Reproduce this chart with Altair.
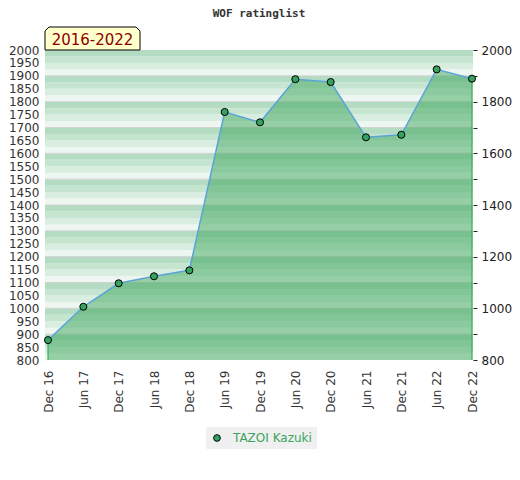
import json
import altair as alt
import pandas as pd

# ---- data ----
periods = ["Dec 16", "Jun 17", "Dec 17", "Jun 18", "Dec 18", "Jun 19", "Dec 19",
           "Jun 20", "Dec 20", "Jun 21", "Dec 21", "Jun 22", "Dec 22"]
ratings = [877, 1006, 1097, 1124, 1147, 1760, 1720, 1887, 1876, 1662, 1672, 1925, 1889]
player = "TAZOI Kazuki"
title_text = ["WOF ratinglist"]
range_label = ["2016-2022"]

y_min, y_max = 800, 2000
left_ticks = list(range(800, 2001, 50))
right_ticks = list(range(800, 2001, 100))

band_colors = ["#eef6f1", "#d9eee1", "#c6e5d1", "#b3dcc3"]

# ---- tables ----
df = pd.DataFrame({"idx": list(range(len(periods))), "period": periods,
                   "rating": ratings, "name": player})
bands = []
for h in range(y_min, y_max, 100):
    for k in range(4):
        bands.append({"y": h + 25 * k, "y2": h + 25 * (k + 1), "shade": k})
bands = pd.DataFrame(bands)
hundreds = pd.DataFrame({"y": list(range(y_min + 100, y_max, 100))})
label_df = pd.DataFrame({"label": range_label})
title_df = pd.DataFrame({"t": title_text})

FONT = "DejaVu Sans"
last = len(periods) - 1
W, H = 428, 310
yscale = alt.Scale(domain=[y_min, y_max], zero=False, nice=False)
xscale = alt.Scale(domain=[-0.085, last + 0.028], nice=False, zero=False)
label_expr = json.dumps(periods) + "[datum.value]"

xaxis = alt.Axis(values=list(range(len(periods))), labelExpr=label_expr, labelAngle=-90,
                 labelFont=FONT, labelFontSize=12, labelColor="#333", ticks=False,
                 domain=False, grid=False, labelPadding=10, title=None,
                 labelBaseline="middle", labelAlign="right")

band_layer = alt.Chart(bands).mark_rect().encode(
    y=alt.Y("y:Q", scale=yscale,
            axis=alt.Axis(orient="left", values=left_ticks, format="d", labelFont=FONT,
                          labelFontSize=12, labelColor="#333", ticks=False, grid=False,
                          domain=True, domainColor="#cccccc", labelPadding=6, title=None,
                          labelOverlap=False)),
    y2="y2:Q",
    color=alt.Color("shade:O", scale=alt.Scale(domain=[0, 1, 2, 3], range=band_colors),
                    legend=None),
)

grid_layer = alt.Chart(hundreds).mark_rule(color="#d2d2d2", strokeWidth=1).encode(
    y=alt.Y("y:Q", scale=yscale, axis=None)
)

area_layer = alt.Chart(df).mark_area(color="#3da55c", opacity=0.5).encode(
    x=alt.X("idx:Q", scale=xscale, axis=xaxis),
    y=alt.Y("rating:Q", scale=yscale, axis=None),
    y2=alt.datum(y_min),
)

edge_layer = alt.Chart(df).transform_filter(
    f"datum.idx == 0 || datum.idx == {last}"
).mark_rule(color="#35b055", strokeWidth=1.2).encode(
    x=alt.X("idx:Q", scale=xscale, axis=xaxis),
    y=alt.Y("rating:Q", scale=yscale, axis=None),
    y2=alt.datum(y_min),
)

line_layer = alt.Chart(df).mark_line(color="#5ba4d8", strokeWidth=1.5).encode(
    x=alt.X("idx:Q", scale=xscale, axis=xaxis),
    y=alt.Y("rating:Q", scale=yscale,
            axis=alt.Axis(orient="right", values=right_ticks, format="d",
                          labelExpr="datum.value % 200 == 0 ? datum.label : ''",
                          labelFont=FONT, labelFontSize=12, labelColor="#222",
                          ticks=True, tickSize=4, tickColor="#222", domain=False,
                          grid=False, labelPadding=4, title=None, labelOverlap=False)),
)

point_layer = alt.Chart(df).mark_point(filled=True, size=50, stroke="black",
                                       strokeWidth=1, opacity=1).encode(
    x=alt.X("idx:Q", scale=xscale, axis=xaxis),
    y=alt.Y("rating:Q", scale=yscale, axis=None),
    fill=alt.Fill("name:N", scale=alt.Scale(range=["#35a35f"]),
                  legend=alt.Legend(orient="none", legendX=161, legendY=377, title=None,
                                    fillColor="#f0f0f0", padding=5, labelFont=FONT,
                                    labelFontSize=12, labelColor="#3aa55d",
                                    symbolType="circle", symbolSize=45,
                                    symbolStrokeColor="black", symbolStrokeWidth=1,
                                    labelOffset=10)),
)

box_shape = "M -1 0.242 L -1 -0.158 L -0.916 -0.242 L 0.916 -0.242 L 1 -0.158 L 1 0.242 Z"
box_layer = alt.Chart(label_df).mark_point(
    shape=box_shape, size=9025, filled=True, fill="#ffffcc", stroke="black",
    strokeWidth=1, opacity=1
).encode(x=alt.value(47.5), y=alt.value(-11.5))

label_layer = alt.Chart(label_df).mark_text(
    font=FONT, fontSize=15, color="#8b0000", baseline="middle", align="center"
).encode(x=alt.value(47.5), y=alt.value(-10.5), text="label:N")

title_layer = alt.Chart(title_df).mark_text(
    font="DejaVu Sans Mono", fontSize=11, fontWeight="bold", color="#333",
    baseline="middle", align="center"
).encode(x=alt.value(W / 2), y=alt.value(-36), text="t:N")

chart = alt.layer(
    band_layer, grid_layer, area_layer, edge_layer, line_layer, point_layer,
    box_layer, label_layer, title_layer
).resolve_axis(y="independent").properties(
    width=W, height=H,
    padding={"left": 37, "top": 42, "right": 39, "bottom": 112},
    autosize="none",
).configure_view(stroke=None)

chart.save("out.html", embed_options={"renderer": "svg", "actions": False})
